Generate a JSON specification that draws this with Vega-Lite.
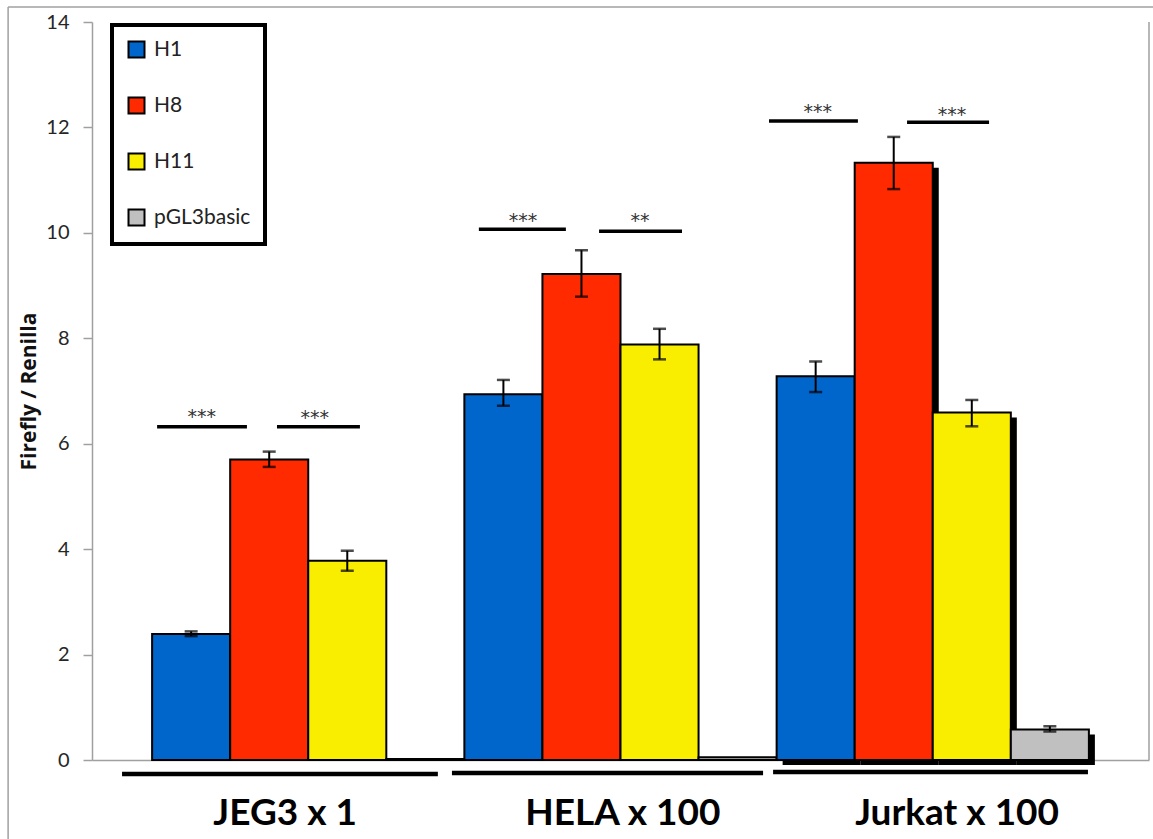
{
  "$schema": "https://vega.github.io/schema/vega-lite/v6.json",
  "width": 1057,
  "height": 738,
  "autosize": {"type": "none"},
  "padding": {"left": 92, "top": 22, "right": 4, "bottom": 79},
  "background": "white",
  "config": {
    "view": {"stroke": null},
    "font": "Lato",
    "legend": {"strokeWidth": 4}
  },
  "datasets": {
    "bars": [
      {"bar": "JEG3 H1", "group": "JEG3 x 1", "series": "H1", "value": 2.39, "lo": 2.35, "hi": 2.44},
      {"bar": "JEG3 H8", "group": "JEG3 x 1", "series": "H8", "value": 5.70, "lo": 5.56, "hi": 5.85},
      {"bar": "JEG3 H11", "group": "JEG3 x 1", "series": "H11", "value": 3.78, "lo": 3.59, "hi": 3.97},
      {"bar": "JEG3 pGL3basic", "group": "JEG3 x 1", "series": "pGL3basic", "value": 0.02, "lo": null, "hi": null},
      {"bar": "HELA H1", "group": "HELA x 100", "series": "H1", "value": 6.94, "lo": 6.72, "hi": 7.21},
      {"bar": "HELA H8", "group": "HELA x 100", "series": "H8", "value": 9.22, "lo": 8.79, "hi": 9.67},
      {"bar": "HELA H11", "group": "HELA x 100", "series": "H11", "value": 7.88, "lo": 7.60, "hi": 8.18},
      {"bar": "HELA pGL3basic", "group": "HELA x 100", "series": "pGL3basic", "value": 0.05, "lo": null, "hi": null},
      {"bar": "Jurkat H1", "group": "Jurkat x 100", "series": "H1", "value": 7.28, "lo": 6.98, "hi": 7.56},
      {"bar": "Jurkat H8", "group": "Jurkat x 100", "series": "H8", "value": 11.33, "lo": 10.83, "hi": 11.82},
      {"bar": "Jurkat H11", "group": "Jurkat x 100", "series": "H11", "value": 6.59, "lo": 6.33, "hi": 6.83},
      {"bar": "Jurkat pGL3basic", "group": "Jurkat x 100", "series": "pGL3basic", "value": 0.58, "lo": 0.54, "hi": 0.64}
    ],
    "sig": [
      {"u1": 0.208, "u2": 0.495, "y": 6.32},
      {"u1": 0.591, "u2": 0.856, "y": 6.32},
      {"u1": 1.236, "u2": 1.514, "y": 10.07},
      {"u1": 1.620, "u2": 1.885, "y": 10.03},
      {"u1": 2.163, "u2": 2.447, "y": 12.12},
      {"u1": 2.604, "u2": 2.866, "y": 12.10}
    ],
    "stars": [
      {"u": 0.351, "y": 6.40, "text": "***"},
      {"u": 0.712, "y": 6.38, "text": "***"},
      {"u": 1.377, "y": 10.12, "text": "***"},
      {"u": 1.751, "y": 10.12, "text": "**"},
      {"u": 2.319, "y": 12.17, "text": "***"},
      {"u": 2.748, "y": 12.13, "text": "***"}
    ],
    "under": [
      {"u1": 0.096, "u2": 1.105, "y": -0.266},
      {"u1": 1.150, "u2": 2.144, "y": -0.247},
      {"u1": 2.176, "u2": 3.182, "y": -0.228}
    ],
    "labels": [
      {"u": 0.617, "y": -1.233, "text": "JEG3 x 1"},
      {"u": 1.696, "y": -1.233, "text": "HELA x 100"},
      {"u": 2.764, "y": -1.233, "text": "Jurkat x 100"}
    ],
    "frame": [
      {"u1": -0.268, "u2": -0.268, "y1": -1.6, "y2": 14.285},
      {"u1": -0.268, "u2": 3.40, "y1": 14.285, "y2": 14.285},
      {"u1": 3.377, "u2": 3.377, "y1": 0, "y2": 14}
    ]
  },
  "layer": [
    {
      "data": {"name": "bars"},
      "layer": [
        {
          "transform": [{"filter": "datum.group == 'Jurkat x 100'"}],
          "mark": {"type": "bar", "color": "black", "xOffset": 6, "yOffset": 5, "y2Offset": 5},
          "encoding": {
            "x": {"field": "bar", "type": "nominal", "sort": null,
                  "scale": {"domain": ["JEG3 H1", "JEG3 H8", "JEG3 H11", "JEG3 pGL3basic", "HELA H1", "HELA H8", "HELA H11", "HELA pGL3basic", "Jurkat H1", "Jurkat H8", "Jurkat H11", "Jurkat pGL3basic"], "paddingInner": 0, "paddingOuter": 0.77},
                  "axis": {"labels": false, "ticks": false, "title": null, "domainColor": "#a0a0a0", "domainWidth": 1.5}},
            "y": {"field": "value", "type": "quantitative",
                  "scale": {"domain": [0, 14], "nice": false},
                  "axis": {"title": "Firefly / Renilla", "values": [0, 2, 4, 6, 8, 10, 12, 14], "grid": false,
                           "domainColor": "#a0a0a0", "domainWidth": 1.5, "tickColor": "#a0a0a0", "tickSize": 9, "tickWidth": 1.5,
                           "labelFontSize": 20, "labelColor": "#262626", "labelPadding": 14, "labelFont": "Lato",
                           "titleFont": "Open Sans", "titleFontSize": 21, "titleFontWeight": "bold", "titleColor": "#111111",
                           "titleX": -63, "titleY": 369, "titleAngle": 270, "titleAlign": "center", "titleBaseline": "middle"}}
          }
        },
        {
          "mark": {"type": "bar", "stroke": "black", "strokeWidth": 2},
          "encoding": {
            "x": {"field": "bar", "type": "nominal", "sort": null},
            "y": {"field": "value", "type": "quantitative"},
            "color": {"field": "series", "type": "nominal",
                      "scale": {"domain": ["H1", "H8", "H11", "pGL3basic"], "range": ["#0066CC", "#FF2A00", "#FAEE00", "#C0C0C0"]},
                      "legend": {"orient": "none", "legendX": 20, "legendY": 3, "title": null,
                                 "strokeColor": "black", "fillColor": "white", "padding": 14,
                                 "symbolType": "square", "symbolSize": 256, "symbolStrokeColor": "black", "symbolStrokeWidth": 2,
                                 "labelFontSize": 21, "labelFont": "Lato", "labelColor": "#222222", "rowPadding": 31, "labelOffset": 7}}
          }
        },
        {
          "mark": {"type": "rule", "color": "black", "strokeWidth": 2},
          "encoding": {
            "x": {"field": "bar", "type": "nominal", "sort": null},
            "y": {"field": "lo", "type": "quantitative"},
            "y2": {"field": "hi"}
          }
        },
        {
          "mark": {"type": "tick", "color": "black", "size": 13, "thickness": 2.5},
          "encoding": {
            "x": {"field": "bar", "type": "nominal", "sort": null},
            "y": {"field": "lo", "type": "quantitative"}
          }
        },
        {
          "mark": {"type": "tick", "color": "black", "size": 13, "thickness": 2.5},
          "encoding": {
            "x": {"field": "bar", "type": "nominal", "sort": null},
            "y": {"field": "hi", "type": "quantitative"}
          }
        }
      ]
    },
    {
      "data": {"name": "frame"},
      "mark": {"type": "rule", "color": "#a0a0a0", "strokeWidth": 1.5},
      "encoding": {
        "x": {"field": "u1", "type": "quantitative", "scale": {"domain": [0, 3.377], "nice": false, "zero": false}, "axis": null},
        "x2": {"field": "u2"},
        "y": {"field": "y1", "type": "quantitative"},
        "y2": {"field": "y2"}
      }
    },
    {
      "data": {"name": "sig"},
      "mark": {"type": "rule", "color": "black", "strokeWidth": 3.5},
      "encoding": {
        "x": {"field": "u1", "type": "quantitative", "scale": {"domain": [0, 3.377], "nice": false, "zero": false}, "axis": null},
        "x2": {"field": "u2"},
        "y": {"field": "y", "type": "quantitative"}
      }
    },
    {
      "data": {"name": "stars"},
      "mark": {"type": "text", "font": "DejaVu Sans", "fontSize": 19, "color": "#333333", "align": "center", "baseline": "alphabetic"},
      "encoding": {
        "x": {"field": "u", "type": "quantitative", "scale": {"domain": [0, 3.377], "nice": false, "zero": false}, "axis": null},
        "y": {"field": "y", "type": "quantitative"},
        "text": {"field": "text"}
      }
    },
    {
      "data": {"name": "under"},
      "mark": {"type": "rule", "color": "black", "strokeWidth": 4.5},
      "encoding": {
        "x": {"field": "u1", "type": "quantitative", "scale": {"domain": [0, 3.377], "nice": false, "zero": false}, "axis": null},
        "x2": {"field": "u2"},
        "y": {"field": "y", "type": "quantitative"}
      }
    },
    {
      "data": {"name": "labels"},
      "mark": {"type": "text", "font": "Lato", "fontSize": 37, "fontWeight": "bold", "color": "black", "align": "center", "baseline": "alphabetic"},
      "encoding": {
        "x": {"field": "u", "type": "quantitative", "scale": {"domain": [0, 3.377], "nice": false, "zero": false}, "axis": null},
        "y": {"field": "y", "type": "quantitative"},
        "text": {"field": "text"}
      }
    }
  ],
  "resolve": {"scale": {"x": "independent"}}
}
